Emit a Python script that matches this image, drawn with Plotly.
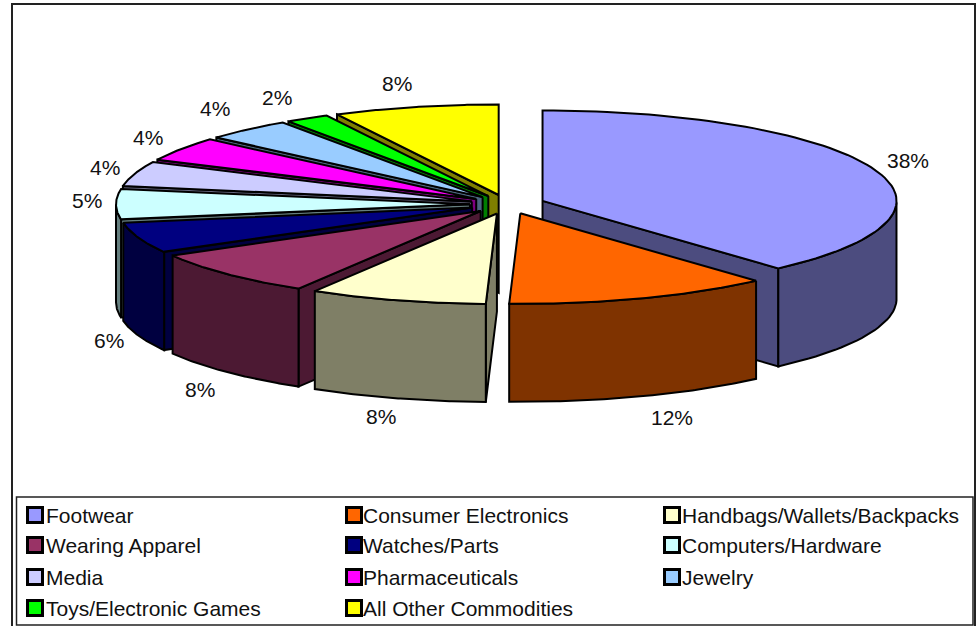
import numpy as np
import plotly.graph_objects as go

categories = ["Footwear", "Consumer Electronics", "Handbags/Wallets/Backpacks",
              "Wearing Apparel", "Watches/Parts", "Computers/Hardware",
              "Media", "Pharmaceuticals", "Jewelry",
              "Toys/Electronic Games", "All Other Commodities"]
shares = [38.4, 12.1, 8.1, 8.2, 5.5, 5.4, 4.45, 4.3, 4.0, 2.0, 7.55]
pct_labels = ["38%", "12%", "8%", "8%", "6%", "5%", "4%", "4%", "4%", "2%", "8%"]
colors = ["#9999FF", "#FF6600", "#FFFFCC", "#993366", "#000080", "#CCFFFF",
          "#CCCCFF", "#FF00FF", "#99CCFF", "#00FF00", "#FFFF00"]

# layout, in page pixels
CX, CY = 507.5, 204.3
RX, RY = 354, 90.5
DEPTH = 98
PULL = 37.5
LABEL_POS = [(908, 160), (672, 417), (381, 416), (200, 389), (109, 340), (87, 200),
             (105, 167), (148, 137), (215, 108), (277, 97), (397, 83)]
LEG_X = [35, 354, 672]
LEG_TEXT_X = [44, 361, 680]
LEG_Y = [515, 545, 577, 608]


def darken(c):
    r, g, b = [int(c[i:i + 2], 16) for i in (1, 3, 5)]
    return f"rgb({r // 2},{g // 2},{b // 2})"


def polygon(fig, xs, ys, color):
    fig.add_trace(go.Scatter(x=xs, y=ys, mode="lines", fill="toself", fillcolor=color,
                             line=dict(color="black", width=2), hoverinfo="skip",
                             showlegend=False))


def draw_slice(fig, a0, a1, color):
    mid = (a0 + a1) / 2
    ax = CX + PULL * np.sin(mid)
    ay = CY - PULL * RY / RX * np.cos(mid)
    t = np.linspace(a0, a1, 80)
    ex = ax + RX * np.sin(t)
    ey = ay - RY * np.cos(t)
    dark = darken(color)

    # cut faces first, then the rim, then the top
    if np.sin(a0) < -1e-6:
        polygon(fig, [ax, ex[0], ex[0], ax, ax], [ay, ey[0], ey[0] + DEPTH, ay + DEPTH, ay], dark)
    if np.sin(a1) > 1e-6:
        polygon(fig, [ax, ex[-1], ex[-1], ax, ax], [ay, ey[-1], ey[-1] + DEPTH, ay + DEPTH, ay], dark)
    front = np.cos(t) < 0
    if front.any():
        fx, fy = ex[front], ey[front]
        polygon(fig, list(fx) + list(fx[::-1]) + [fx[0]],
                list(fy) + list(fy[::-1] + DEPTH) + [fy[0]], dark)
    polygon(fig, [ax] + list(ex) + [ax], [ay] + list(ey) + [ay], color)


fig = go.Figure()

# outer frame and legend box
fig.add_shape(type="rect", x0=12, y0=4, x1=975, y1=640,
              line=dict(color="#222222", width=2), fillcolor="white", layer="below")
fig.add_shape(type="rect", x0=16.5, y0=497, x1=973, y1=625,
              line=dict(color="#222222", width=1.5), fillcolor="white", layer="below")

ends = np.cumsum(shares) / sum(shares) * 2 * np.pi
starts = np.concatenate([[0], ends[:-1]])
order = sorted(range(len(shares)), key=lambda i: -np.cos((starts[i] + ends[i]) / 2))
for i in order:
    draw_slice(fig, starts[i], ends[i], colors[i])

for (x, y), txt in zip(LABEL_POS, pct_labels):
    fig.add_annotation(x=x, y=y, text=txt, showarrow=False,
                       font=dict(family="Liberation Sans", size=21, color="#111111"))

# legend, filled row by row in three columns
for i, name in enumerate(categories):
    col, row = i % 3, i // 3
    fig.add_trace(go.Scatter(x=[LEG_X[col]], y=[LEG_Y[row]], mode="markers", hoverinfo="skip",
                             showlegend=False,
                             marker=dict(symbol="square", size=15, color=colors[i],
                                         line=dict(color="black", width=3))))
    fig.add_annotation(x=LEG_TEXT_X[col], y=LEG_Y[row], text=name, showarrow=False, xanchor="left",
                       font=dict(family="Liberation Sans", size=21, color="#111111"))

fig.update_layout(
    width=978, height=626,
    margin=dict(l=0, r=0, t=0, b=0),
    paper_bgcolor="white", plot_bgcolor="white",
    showlegend=False,
    xaxis=dict(range=[0, 978], visible=False, fixedrange=True),
    yaxis=dict(range=[626, 0], visible=False, fixedrange=True),
)
fig.write_html("out.html", config=dict(displayModeBar=False),
               post_script="document.body.style.margin = '0';")
